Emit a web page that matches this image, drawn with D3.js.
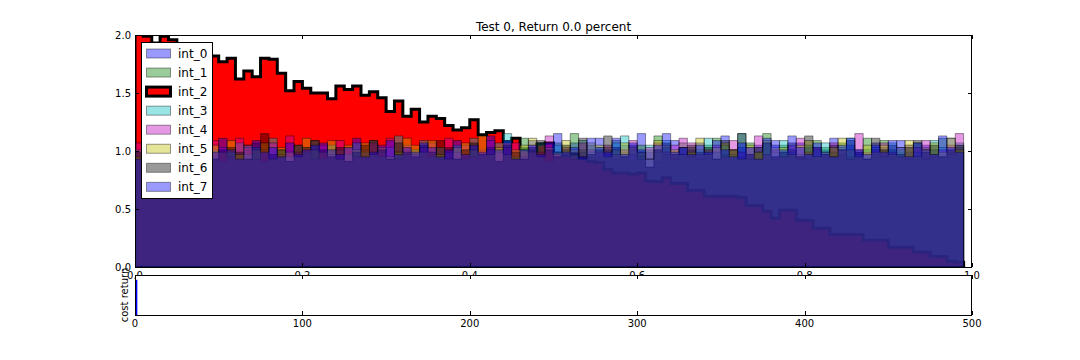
<!DOCTYPE html>
<html>
<head>
<meta charset="utf-8">
<script src="https://cdn.jsdelivr.net/npm/d3@7"></script>
<style>
  html, body { margin: 0; padding: 0; background: #fff; }
  svg { display: block; font-family: "DejaVu Sans", sans-serif; }
</style>
</head>
<body>
<svg id="chart" width="1080" height="360"></svg>
<script>
// ---------------- data ----------------
const seriesNames = ["int_0", "int_1", "int_2", "int_3", "int_4", "int_5", "int_6", "int_7"];
const seriesColors = ["#0000ff", "#008000", "#ff0000", "#00bfbf", "#bf00bf", "#bfbf00", "#000000", "#0000ff"];
const binWidth = 0.01;               // histogram bin width (99 bins from 0 to 0.99)
const xTicksMain = [0.0, 0.2, 0.4, 0.6, 0.8, 1.0];
const yTicksMain = [0.0, 0.5, 1.0, 1.5, 2.0];
const xTicksCost = [0, 100, 200, 300, 400, 500];
const titleText = "Test 0, Return 0.0 percent";
const costLabel = "cost return";

const int_0 = [
  1.03, 0.93, 1.09, 0.97, 1.05, 0.91, 1.01, 1.11, 0.95, 0.99, 1.07,
  0.89, 1.03, 0.99, 1.13, 0.97, 1.05, 0.93, 1.01, 1.09, 0.95, 1.03,
  0.99, 0.91, 1.07, 1.01, 0.97, 1.11, 0.93, 1.05, 0.99, 0.95, 1.09,
  1.03, 0.97, 0.93, 1.07, 1.01, 0.89, 1.05, 0.99, 1.11, 0.95, 1.01,
  0.93, 1.05, 0.99, 1.09, 0.97, 1.03, 0.91, 1.01, 1.07, 0.99, 0.95,
  1.11, 1.01, 0.93, 1.05, 0.97, 1.15, 0.99, 0.91, 1.03, 1.09, 0.97,
  1.01, 1.07, 0.95, 0.99, 1.13, 0.93, 1.03, 0.97, 1.05, 0.91, 1.09,
  0.99, 0.95, 1.07, 1.03, 0.91, 1.01, 1.11, 0.97, 1.05, 0.99, 0.93,
  1.07, 1.03, 0.95, 1.09, 0.99, 0.93, 1.05, 1.01, 0.97, 1.11, 1.03
];
const int_1 = [
  0.97, 1.07, 0.99, 0.91, 1.03, 1.09, 0.95, 1.01, 1.05, 0.93, 0.99,
  1.05, 0.95, 1.11, 0.99, 0.93, 1.03, 1.07, 0.97, 1.01, 1.09, 0.91,
  1.03, 0.99, 0.95, 1.09, 1.05, 0.93, 1.01, 1.11, 0.97, 1.03, 0.95,
  1.07, 0.93, 1.01, 0.99, 1.09, 0.97, 0.91, 1.05, 1.03, 1.13, 0.95,
  1.01, 0.97, 1.11, 0.93, 1.03, 0.99, 1.07, 0.95, 1.15, 1.01, 1.05,
  0.95, 1.03, 1.09, 0.99, 0.91, 1.05, 1.01, 1.13, 0.97, 0.99, 1.07,
  1.03, 0.93, 1.05, 1.11, 0.97, 1.01, 0.95, 1.07, 0.99, 1.15, 0.93,
  1.05, 1.01, 0.97, 0.93, 1.09, 1.03, 0.99, 1.07, 0.95, 1.01, 1.11,
  0.97, 1.09, 1.01, 0.99, 0.93, 1.07, 1.03, 0.95, 1.11, 0.99, 1.05
];
const int_2 = [
  2.02, 1.99, 1.93, 1.99, 1.96, 1.80, 1.78, 1.82, 1.85, 1.82, 1.77,
  1.80, 1.62, 1.69, 1.64, 1.80, 1.79, 1.67, 1.52, 1.60, 1.54, 1.50,
  1.50, 1.45, 1.56, 1.53, 1.56, 1.48, 1.51, 1.46, 1.34, 1.43, 1.30,
  1.36, 1.25, 1.30, 1.28, 1.22, 1.18, 1.20, 1.27, 1.14, 1.16, 1.175,
  1.08, 1.11, 1.01, 1.00, 1.06, 1.07, 0.98, 0.96, 0.97, 0.94, 0.91,
  0.90, 0.84, 0.81, 0.81, 0.80, 0.81, 0.74, 0.735, 0.77, 0.72, 0.72,
  0.66, 0.66, 0.61, 0.61, 0.61, 0.61, 0.60, 0.53, 0.53, 0.48, 0.42,
  0.49, 0.49, 0.405, 0.40, 0.335, 0.335, 0.28, 0.28, 0.28, 0.28, 0.23,
  0.23, 0.23, 0.17, 0.17, 0.17, 0.13, 0.13, 0.09, 0.09, 0.05, 0.04
];
const int_3 = [
  1.01, 0.99, 0.95, 1.05, 1.09, 0.97, 1.03, 0.93, 1.07, 1.01, 0.91,
  0.99, 1.07, 0.97, 1.03, 0.91, 1.11, 1.01, 0.95, 1.05, 0.99, 1.09,
  0.93, 1.05, 1.01, 0.97, 1.07, 0.99, 1.09, 0.95, 1.03, 1.13, 0.97,
  1.01, 1.09, 0.95, 1.03, 0.99, 1.05, 0.93, 1.11, 0.97, 1.01, 1.07,
  1.15, 0.95, 1.03, 0.99, 1.07, 0.91, 1.05, 1.01, 0.97, 1.09, 0.99,
  1.03, 0.97, 1.07, 1.13, 1.01, 0.95, 1.05, 0.99, 1.09, 0.93, 1.03,
  0.95, 1.01, 1.11, 0.99, 1.05, 0.97, 1.15, 0.93, 1.03, 1.07, 0.99,
  1.09, 0.99, 0.93, 1.05, 1.01, 1.07, 0.95, 1.03, 1.11, 0.97, 1.01,
  1.03, 0.95, 1.07, 1.01, 1.05, 0.99, 0.93, 1.09, 1.03, 0.97, 1.07
];
const int_4 = [
  1.07, 1.01, 0.97, 1.03, 0.93, 1.05, 1.11, 0.99, 0.95, 1.09, 1.03,
  0.95, 1.11, 1.03, 0.93, 1.01, 1.07, 0.97, 1.13, 0.99, 1.03, 0.93,
  1.05, 0.97, 1.09, 1.03, 0.95, 1.01, 1.07, 0.99, 1.11, 0.93, 1.05,
  0.97, 1.03, 1.07, 0.93, 1.11, 0.99, 1.05, 0.95, 1.01, 1.09, 0.99,
  1.03, 1.07, 0.95, 1.05, 0.99, 1.13, 0.97, 1.03, 0.93, 1.07, 1.01,
  0.99, 1.05, 0.97, 1.01, 1.09, 0.93, 1.03, 1.07, 0.99, 1.05, 1.11,
  1.07, 0.97, 1.01, 1.05, 0.95, 1.09, 0.99, 1.03, 1.13, 0.97, 1.01,
  0.95, 1.05, 1.11, 0.99, 1.03, 0.97, 1.07, 1.01, 0.93, 1.15, 0.99,
  1.01, 1.07, 0.99, 0.95, 1.05, 1.03, 1.09, 0.97, 1.01, 1.05, 1.15
];
const int_5 = [
  0.95, 1.05, 1.01, 1.09, 0.99, 0.93, 1.07, 1.03, 0.97, 1.05, 0.99,
  1.09, 0.97, 1.05, 1.01, 1.07, 0.93, 1.03, 0.99, 0.95, 1.11, 1.01,
  0.99, 1.09, 0.93, 1.05, 1.01, 1.07, 0.97, 1.03, 0.95, 0.99, 1.11,
  1.05, 0.99, 1.09, 0.97, 0.93, 1.03, 1.07, 1.01, 1.13, 0.97, 1.03,
  0.97, 1.01, 1.05, 1.11, 0.95, 1.03, 0.99, 1.09, 1.01, 0.93, 1.07,
  1.05, 0.95, 1.01, 1.07, 1.03, 0.99, 0.93, 1.09, 1.05, 1.01, 0.97,
  0.99, 1.11, 0.97, 1.03, 1.07, 1.01, 0.93, 1.05, 0.99, 1.09, 1.03,
  1.03, 0.97, 1.05, 1.09, 0.95, 0.99, 1.03, 1.11, 1.01, 0.95, 1.05,
  0.99, 1.05, 0.97, 1.03, 1.09, 0.95, 1.01, 1.07, 0.99, 1.11, 1.01
];
const int_6 = [
  0.99, 0.91, 1.05, 1.01, 0.95, 1.09, 0.97, 1.03, 1.07, 0.93, 1.01,
  1.03, 0.99, 0.93, 1.07, 1.15, 0.97, 1.01, 0.91, 1.05, 1.03, 1.09,
  1.01, 0.95, 1.03, 0.91, 0.99, 1.05, 1.09, 1.01, 0.93, 1.07, 0.99,
  0.95, 1.05, 0.99, 1.09, 1.03, 0.93, 1.01, 1.07, 0.97, 1.03, 0.91,
  1.05, 0.99, 0.93, 1.03, 1.09, 1.01, 0.95, 1.05, 0.99, 1.11, 0.97,
  1.01, 1.13, 1.03, 0.95, 1.05, 0.99, 0.86, 1.01, 1.07, 0.97, 1.03,
  1.05, 0.99, 1.03, 0.93, 1.09, 1.01, 1.15, 0.97, 1.03, 1.07, 0.95,
  0.99, 1.07, 0.95, 1.13, 1.03, 0.97, 1.05, 1.01, 1.09, 0.99, 0.93,
  1.11, 1.01, 1.05, 0.97, 1.03, 1.09, 0.99, 1.05, 0.95, 1.01, 1.05
];
const int_7 = [
  0.93, 1.03, 1.07, 0.99, 1.01, 0.95, 1.09, 0.97, 1.05, 0.99, 1.11,
  1.01, 0.93, 1.05, 1.09, 0.99, 1.03, 0.95, 1.07, 0.97, 1.01, 1.05,
  1.07, 1.01, 0.97, 1.03, 1.11, 0.95, 0.99, 1.05, 1.09, 0.97, 1.03,
  0.99, 1.07, 1.03, 0.95, 1.01, 1.09, 0.97, 1.05, 0.99, 1.13, 1.01,
  1.09, 0.93, 1.01, 1.05, 0.97, 1.07, 1.15, 0.99, 1.03, 0.95, 1.11,
  1.03, 0.99, 1.11, 0.97, 1.07, 1.01, 0.93, 1.05, 1.15, 0.99, 1.03,
  0.97, 1.05, 0.99, 1.09, 1.01, 0.95, 1.07, 1.03, 0.93, 1.11, 1.05,
  1.01, 1.13, 1.03, 0.97, 1.07, 0.99, 0.95, 1.05, 1.11, 1.01, 0.97,
  1.05, 0.99, 1.09, 1.03, 0.95, 1.07, 1.01, 0.97, 1.13, 1.03, 0.99
];
const seriesValues = [int_0, int_1, int_2, int_3, int_4, int_5, int_6, int_7];

// cost return panel: one bar at iteration 0
const costX = [0];
const costValues = [0.88];
const costBarWidth = 1.4;

// ---------------- layout ----------------
const svg = d3.select("#chart");
const main = { left: 135, right: 972, top: 35, bottom: 267 };
const low = { left: 135, right: 972, top: 275, bottom: 315 };
const tickLen = 4;
const tickFont = 10;

const x = d3.scaleLinear().domain([0, 1]).range([main.left, main.right]);
const y = d3.scaleLinear().domain([0, 2]).range([main.bottom, main.top]);

svg.append("defs").append("clipPath").attr("id", "clipMain")
  .append("rect").attr("x", main.left).attr("y", main.top)
  .attr("width", main.right - main.left).attr("height", main.bottom - main.top);

svg.append("rect").attr("x", main.left).attr("y", main.top)
  .attr("width", main.right - main.left).attr("height", main.bottom - main.top)
  .attr("fill", "#fff");

// step-filled histogram outline
function stepPoints(vals) {
  const pts = [[0, 0]];
  vals.forEach((v, i) => {
    pts.push([i * binWidth, v]);
    pts.push([(i + 1) * binWidth, v]);
  });
  pts.push([vals.length * binWidth, 0]);
  return pts;
}
const line = d3.line().x(d => x(d[0])).y(d => y(d[1]));

const gHist = svg.append("g").attr("clip-path", "url(#clipMain)");
seriesValues.forEach((vals, k) => {
  const isMain = seriesNames[k] === "int_2";
  gHist.append("path")
    .attr("d", line(stepPoints(vals)) + "Z")
    .attr("fill", seriesColors[k])
    .attr("fill-opacity", isMain ? 1 : 0.4)
    .attr("stroke", "#000")
    .attr("stroke-opacity", isMain ? 1 : 0.4)
    .attr("stroke-width", isMain ? 3 : 1)
    .attr("stroke-linejoin", "miter");
});

// main frame
svg.append("rect").attr("x", main.left + 0.5).attr("y", main.top + 0.5)
  .attr("width", main.right - main.left - 1).attr("height", main.bottom - main.top)
  .attr("fill", "none").attr("stroke", "#000").attr("stroke-width", 1);

// main ticks (inward, all sides)
const gTicks = svg.append("g").attr("stroke", "#000").attr("stroke-width", 1);
xTicksMain.forEach(t => {
  const px = Math.round(x(t)) + 0.5;
  gTicks.append("line").attr("x1", px).attr("x2", px).attr("y1", main.bottom).attr("y2", main.bottom - tickLen);
  gTicks.append("line").attr("x1", px).attr("x2", px).attr("y1", main.top).attr("y2", main.top + tickLen);
});
yTicksMain.forEach(t => {
  const py = Math.round(y(t)) + 0.5;
  gTicks.append("line").attr("x1", main.left).attr("x2", main.left + tickLen).attr("y1", py).attr("y2", py);
  gTicks.append("line").attr("x1", main.right).attr("x2", main.right - tickLen).attr("y1", py).attr("y2", py);
});

// main tick labels
const fmt1 = d3.format(".1f");
xTicksMain.forEach(t => {
  svg.append("text").attr("x", x(t)).attr("y", main.bottom + 12)
    .attr("text-anchor", "middle").attr("font-size", tickFont).attr("fill", "#000")
    .text(fmt1(t));
});
yTicksMain.forEach(t => {
  svg.append("text").attr("x", main.left - 4).attr("y", y(t) + 3.5)
    .attr("text-anchor", "end").attr("font-size", tickFont).attr("fill", "#000")
    .text(fmt1(t));
});

// title
svg.append("text").attr("x", (main.left + main.right) / 2).attr("y", 31)
  .attr("text-anchor", "middle").attr("font-size", 12).attr("fill", "#000")
  .text(titleText);

// legend
const leg = svg.append("g");
leg.append("rect").attr("x", 141.5).attr("y", 42.5).attr("width", 71).attr("height", 156)
  .attr("fill", "#fff").attr("stroke", "#000").attr("stroke-width", 1);
seriesNames.forEach((name, k) => {
  const cy = 53.5 + k * 19.05;
  const isMain = name === "int_2";
  leg.append("rect").attr("x", 146.5).attr("y", cy - 4.5).attr("width", 24).attr("height", 9)
    .attr("fill", seriesColors[k]).attr("fill-opacity", isMain ? 1 : 0.4)
    .attr("stroke", "#000").attr("stroke-opacity", isMain ? 1 : 0.4)
    .attr("stroke-width", isMain ? 3 : 1);
  leg.append("text").attr("x", 178).attr("y", cy + 4.5)
    .attr("font-size", 12).attr("fill", "#000").text(name);
});

// ---------------- lower panel ----------------
const x2 = d3.scaleLinear().domain([0, 500]).range([low.left, low.right]);
const y2 = d3.scaleLinear().domain([0, 1]).range([low.bottom, low.top]);

svg.append("rect").attr("x", low.left).attr("y", low.top)
  .attr("width", low.right - low.left).attr("height", low.bottom - low.top)
  .attr("fill", "#fff");

svg.append("g").selectAll("rect").data(costX).join("rect")
  .attr("x", d => x2(d))
  .attr("width", d => x2(d + costBarWidth) - x2(d))
  .attr("y", (d, i) => y2(costValues[i]))
  .attr("height", (d, i) => y2(0) - y2(costValues[i]))
  .attr("fill", "#0000ff");

svg.append("rect").attr("x", low.left + 0.5).attr("y", low.top + 0.5)
  .attr("width", low.right - low.left - 1).attr("height", low.bottom - low.top)
  .attr("fill", "none").attr("stroke", "#000").attr("stroke-width", 1);

const gTicks2 = svg.append("g").attr("stroke", "#000").attr("stroke-width", 1);
xTicksCost.forEach(t => {
  const px = Math.round(x2(t)) + 0.5;
  gTicks2.append("line").attr("x1", px).attr("x2", px).attr("y1", low.bottom).attr("y2", low.bottom - tickLen);
  gTicks2.append("line").attr("x1", px).attr("x2", px).attr("y1", low.top).attr("y2", low.top + tickLen);
  svg.append("text").attr("x", x2(t)).attr("y", low.bottom + 12)
    .attr("text-anchor", "middle").attr("font-size", tickFont).attr("fill", "#000")
    .text(t);
});

svg.append("text")
  .attr("transform", `translate(128, ${(low.top + low.bottom) / 2}) rotate(-90)`)
  .attr("text-anchor", "middle").attr("font-size", 10).attr("fill", "#000")
  .text(costLabel);
</script>
</body>
</html>
